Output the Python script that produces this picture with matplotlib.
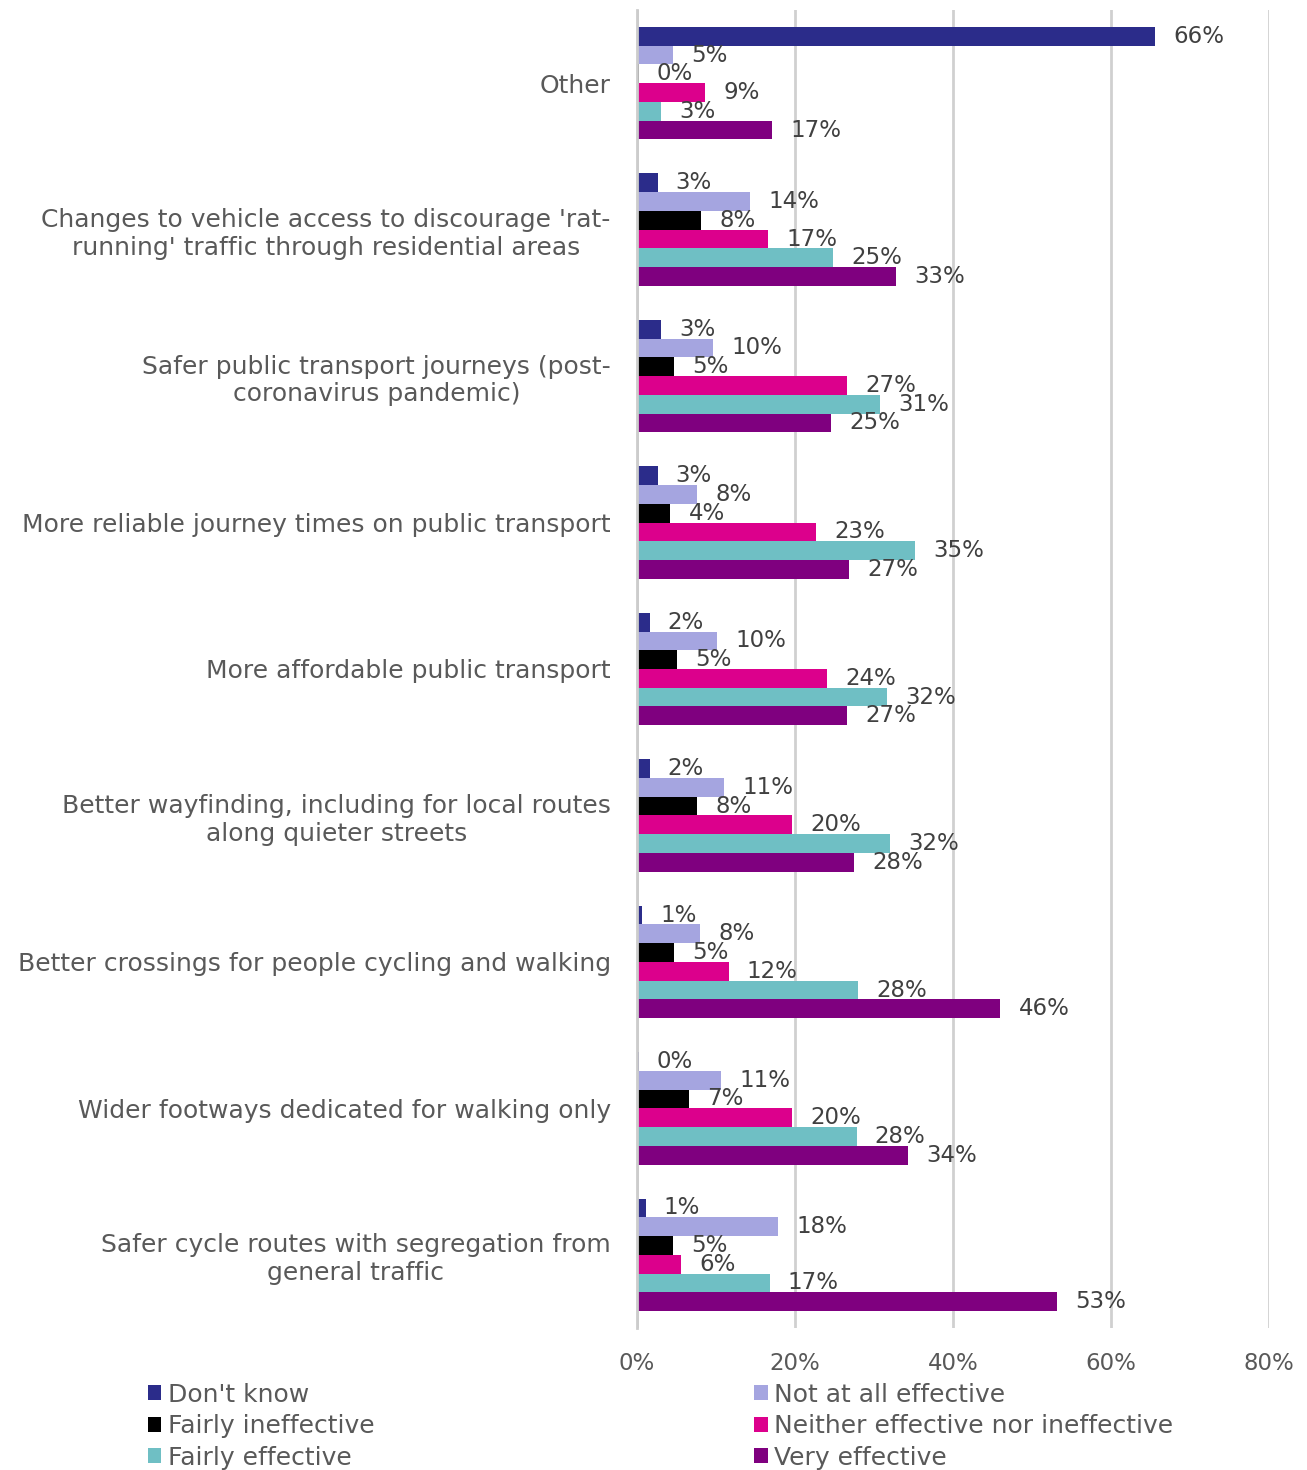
import numpy as np
import matplotlib
matplotlib.use("Agg")
import matplotlib.pyplot as plt

# categories, top to bottom
categories = [
    "Other",
    "Changes to vehicle access to discourage 'rat-\nrunning' traffic through residential areas",
    "Safer public transport journeys (post-\ncoronavirus pandemic)",
    "More reliable journey times on public transport",
    "More affordable public transport",
    "Better wayfinding, including for local routes\nalong quieter streets",
    "Better crossings for people cycling and walking",
    "Wider footways dedicated for walking only",
    "Safer cycle routes with segregation from\ngeneral traffic",
]

series_names = ["Don't know", "Not at all effective", "Fairly ineffective",
                "Neither effective nor ineffective", "Fairly effective", "Very effective"]

dont_know = [65.6, 2.6, 3.0, 2.6, 1.6, 1.6, 0.6, 0.2, 1.1]
not_at_all = [4.6, 14.3, 9.6, 7.6, 10.1, 11.0, 8.0, 10.6, 17.9]
fairly_ineff = [0.2, 8.1, 4.7, 4.2, 5.1, 7.6, 4.7, 6.6, 4.6]
neither = [8.6, 16.6, 26.6, 22.7, 24.1, 19.6, 11.6, 19.6, 5.6]
fairly_eff = [3.0, 24.8, 30.8, 35.2, 31.6, 32.0, 28.0, 27.8, 16.8]
very_eff = [17.1, 32.8, 24.6, 26.8, 26.6, 27.5, 46.0, 34.3, 53.2]

colors = ["#2B2C8A", "#A5A5E0", "#000000", "#DC008C", "#6FBFC4", "#7F007F"]

data = [dont_know, not_at_all, fairly_ineff, neither, fairly_eff, very_eff]

fig = plt.figure(figsize=(13.07, 14.70), dpi=100)
ax = fig.add_axes([0.4874, 0.0966, 0.4836, 0.8966])

fsize = 18
nsize = 16.5
txt_col = "#595959"

y = np.arange(len(categories))
h = 0.128
handles = []
for j, vals in enumerate(data):
    pos = y + (j - 2.5) * h
    b = ax.barh(pos, vals, height=h, color=colors[j], label=series_names[j])
    handles.append(b)
    for p, v in zip(pos, vals):
        ax.text(v + 2.3, p, f"{v:.0f}%", va="center", ha="left",
                fontsize=nsize, color="#404040")

ax.set_xlim(0, 80)
ax.set_ylim(len(categories) - 0.5, -0.5)
ax.set_xticks([0, 20, 40, 60, 80])
ax.set_xticklabels([f"{t}%" for t in [0, 20, 40, 60, 80]])
ax.set_yticks(y)
ax.set_yticklabels(categories)
for t in ax.get_yticklabels():
    t.set_multialignment("center")

ax.tick_params(axis="y", length=0, pad=19, labelsize=fsize, labelcolor=txt_col)
ax.tick_params(axis="x", length=0, pad=17, labelsize=nsize, labelcolor=txt_col)

for s in ["top", "right", "bottom"]:
    ax.spines[s].set_visible(False)
ax.spines["left"].set_color("#cccccc")
ax.spines["left"].set_linewidth(2)
ax.xaxis.grid(True, color="#d0d0d0", linewidth=2)
ax.set_axisbelow(True)

# legend in two columns, filled row by row
left_idx = [0, 2, 4]
right_idx = [1, 3, 5]
for idx, xa in [(left_idx, 0.113), (right_idx, 0.577)]:
    leg = fig.legend([handles[i] for i in idx], [series_names[i] for i in idx],
                     loc="upper left", bbox_to_anchor=(xa, 0.0595),
                     frameon=False, fontsize=fsize, handlelength=0.55, handleheight=0.55,
                     handletextpad=0.25, labelspacing=0.3,
                     borderaxespad=0, borderpad=0)
    for t in leg.get_texts():
        t.set_color(txt_col)

fig.savefig("out.png", dpi=100)
